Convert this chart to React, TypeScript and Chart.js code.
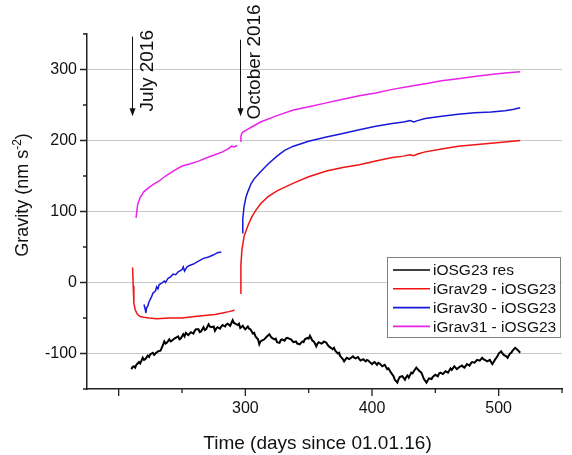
import React, { useEffect, useRef } from "react";
import { Chart, registerables } from "chart.js";

Chart.register(...registerables);

// ---------- data (day since 01.01.16, gravity nm s^-2) ----------
const RES_SERIES: [number, number][] = [
  [210, -122], [211, -119], [212, -118], [213, -120], [214, -116], [216, -112], [217, -114], [218, -110], [219, -106], [220, -109], [221, -108], [223, -103],
  [224, -105], [225, -101], [227, -99], [228, -102], [229, -100], [231, -97], [233, -96], [234, -92], [235, -88], [236, -83], [237, -86], [238, -85],
  [240, -80], [241, -83], [242, -82], [244, -79], [245, -78], [247, -76], [248, -80], [249, -79], [251, -73], [252, -76], [253, -71], [255, -74],
  [256, -72], [257, -70], [259, -72], [260, -68], [261, -66], [263, -66], [264, -70], [265, -69], [267, -63], [268, -67], [269, -66], [271, -59],
  [272, -62], [273, -63], [275, -62], [276, -68], [277, -65], [278, -63], [280, -65], [281, -62], [282, -60], [284, -62], [285, -59], [286, -58],
  [288, -61], [289, -57], [290, -53], [291, -57], [292, -58], [294, -60], [295, -58], [296, -64], [298, -61], [299, -64], [300, -66], [302, -62],
  [303, -65], [304, -66], [306, -72], [307, -71], [308, -76], [310, -80], [311, -87], [312, -83], [313, -82], [315, -80], [316, -78], [317, -76],
  [319, -73], [320, -76], [321, -78], [323, -80], [324, -79], [325, -84], [327, -85], [328, -81], [329, -80], [331, -82], [332, -79], [333, -78],
  [336, -80], [337, -82], [338, -84], [340, -83], [341, -86], [343, -87], [345, -83], [346, -84], [347, -80], [349, -78], [350, -79], [351, -75],
  [353, -82], [354, -83], [355, -86], [356, -90], [357, -86], [358, -84], [360, -86], [361, -85], [362, -83], [364, -85], [365, -88], [366, -90],
  [369, -94], [370, -92], [371, -96], [373, -100], [374, -99], [375, -104], [377, -108], [378, -111], [380, -106], [381, -107], [382, -108], [385, -104],
  [386, -106], [387, -107], [389, -105], [390, -108], [391, -110], [393, -108], [395, -111], [396, -109], [397, -110], [400, -115], [401, -113], [402, -112],
  [404, -116], [405, -113], [406, -114], [408, -118], [409, -117], [410, -116], [412, -122], [413, -121], [415, -127], [417, -132], [418, -137],
  [420, -141], [421, -136], [422, -133], [424, -132], [426, -137], [427, -133], [428, -131], [429, -134], [431, -127], [432, -128], [433, -125],
  [435, -120], [436, -122], [437, -124], [439, -127], [441, -136], [443, -141], [444, -138], [445, -135], [447, -136], [448, -133], [450, -130],
  [452, -132], [453, -128], [454, -127], [456, -129], [458, -125], [459, -126], [460, -127], [462, -121], [463, -123], [465, -118], [467, -122],
  [469, -119], [471, -117], [472, -119], [473, -120], [475, -115], [477, -117], [478, -114], [479, -112], [481, -113], [483, -109],
  [485, -110], [487, -106], [488, -108], [489, -109], [491, -111], [493, -109], [495, -115], [496, -112], [497, -109], [499, -104],
  [500, -100], [502, -97], [503, -100], [504, -102], [506, -104], [507, -106], [509, -100], [510, -99], [511, -96], [513, -92],
  [515, -95], [517, -99],
];

const GRAV29_JULY: [number, number][] = [
  [211, 21], [211.5, -5], [212, -29], [213, -38], [214, -42], [215, -45], [217, -48], [220, -49],
  [224, -50], [230, -51], [240, -50], [250, -50], [260, -48], [270, -46], [276, -45], [282, -43],
  [287, -41], [291.5, -39],
];
const GRAV29_OCT: [number, number][] = [
  [296, -15], [296.5, 25], [297.3, 46], [299, 65], [302, 80], [305, 92], [308, 101], [312, 111],
  [318, 121], [325, 129], [338, 140], [350, 149], [364, 157], [377, 162], [390, 166], [403, 171],
  [416, 176], [425, 178], [430, 180], [433, 178.5], [436, 181], [442, 184], [455, 188], [468, 192],
  [481, 194], [494, 196], [505, 198], [517, 200],
];

const GRAV30_JULY: [number, number][] = [
  [220, -31], [221, -38], [221.5, -43], [222, -36], [223, -33], [224, -27], [226, -20], [227, -15],
  [229, -12], [230, -6], [231, -9], [232, -3], [234, -1], [236, 2], [237, 0], [239, 6], [241, 8],
  [243, 12], [245, 11], [247, 15], [249, 17], [250, 18], [251, 22], [252, 16], [254, 22], [256, 24],
  [259, 26], [263, 30], [267, 34], [271, 36], [275, 39], [278, 42], [281, 43],
];
const GRAV30_OCT: [number, number][] = [
  [297.5, 70], [298, 90], [299, 107], [300.5, 120], [302, 128], [304.5, 139], [307, 146], [312, 156],
  [318, 167], [325, 178], [331, 186], [338, 192], [350, 199], [364, 205], [377, 210], [390, 215],
  [403, 220], [416, 224], [425, 226], [430, 228], [433, 226], [436, 228], [442, 231], [455, 234],
  [468, 237], [481, 239], [494, 240], [505, 242], [512, 244], [517, 246],
];

const GRAV31_JULY: [number, number][] = [
  [213.7, 91], [215, 110], [217, 120], [220, 128], [224, 134], [228, 139], [232, 143], [237, 150],
  [243, 157], [250, 164], [256, 167], [263, 171], [270, 176], [276, 180], [282, 184], [287, 189],
  [289, 192], [291, 191], [293.6, 193],
];
const GRAV31_OCT: [number, number][] = [
  [296, 199], [296.5, 205], [297, 209], [298, 212], [300, 214], [305, 219], [312, 226], [325, 235],
  [338, 243], [351, 248], [364, 253], [377, 258], [390, 263], [403, 267], [416, 272], [429, 276],
  [442, 280], [455, 284], [468, 287], [481, 290], [494, 293], [505, 295], [517, 297],
];

const SERIES_LABELS = ["iOSG23 res", "iGrav29 - iOSG23", "iGrav30 - iOSG23", "iGrav31 - iOSG23"];
const SERIES_COLORS = ["#000000", "#f01414", "#1818d8", "#ea22ea"];

const X_MAJOR = [200, 300, 400, 500];
const X_MINOR = [250, 350, 450, 550];
const Y_MAJOR = [-100, 0, 100, 200, 300];
const Y_MINOR = [-150, -50, 50, 150, 250, 350];

const EVENTS = [
  { label: "July 2016", day: 210.9, top: 346.5, tip: 234, textDay: 227.2, textStart: 241 },
  { label: "October 2016", day: 295.7, top: 342, tip: 234, textDay: 311.7, textStart: 229.6 },
];

const FONT = "'Liberation Sans', Arial, sans-serif";

const toPts = (a: [number, number][]) => a.map(([x, y]) => ({ x, y }));
const withGap = (a: [number, number][], b: [number, number][]) => [
  ...toPts(a),
  { x: (a[a.length - 1][0] + b[0][0]) / 2, y: null as any },
  ...toPts(b),
];

const overlayPlugin = {
  id: "overlay",
  afterDraw(chart: any) {
    const ctx: CanvasRenderingContext2D = chart.ctx;
    const xs = chart.scales.x;
    const ys = chart.scales.y;
    const area = chart.chartArea;
    ctx.save();
    // tick marks
    ctx.strokeStyle = "#222";
    ctx.lineWidth = 1.3;
    ctx.beginPath();
    for (const v of Y_MAJOR) { const y = ys.getPixelForValue(v); ctx.moveTo(area.left - 7, y); ctx.lineTo(area.left, y); }
    for (const v of Y_MINOR) { const y = ys.getPixelForValue(v); ctx.moveTo(area.left - 4, y); ctx.lineTo(area.left, y); }
    for (const v of X_MAJOR) { const x = xs.getPixelForValue(v); ctx.moveTo(x, area.bottom); ctx.lineTo(x, area.bottom + 7); }
    for (const v of X_MINOR) { const x = xs.getPixelForValue(v); ctx.moveTo(x, area.bottom); ctx.lineTo(x, area.bottom + 4); }
    ctx.stroke();

    // event arrows + labels
    ctx.fillStyle = "#111";
    ctx.strokeStyle = "#111";
    ctx.lineWidth = 1;
    for (const ev of EVENTS) {
      const x = Math.round(xs.getPixelForValue(ev.day)) + 0.5;
      const y0 = ys.getPixelForValue(ev.top);
      const y1 = ys.getPixelForValue(ev.tip);
      ctx.beginPath();
      ctx.moveTo(x, y0);
      ctx.lineTo(x, y1 - 7);
      ctx.stroke();
      ctx.beginPath();
      ctx.moveTo(x - 3, y1 - 8);
      ctx.lineTo(x + 3, y1 - 8);
      ctx.lineTo(x, y1);
      ctx.closePath();
      ctx.fill();
      ctx.save();
      ctx.translate(xs.getPixelForValue(ev.textDay), ys.getPixelForValue(ev.textStart));
      ctx.rotate(-Math.PI / 2);
      ctx.font = `19px ${FONT}`;
      ctx.textAlign = "left";
      ctx.textBaseline = "alphabetic";
      ctx.fillText(ev.label, 0, 0);
      ctx.restore();
    }

    // legend
    const bx = area.right - 175;
    const by = 257;
    const bw = 173;
    const bh = 80;
    ctx.fillStyle = "#ffffff";
    ctx.fillRect(bx, by, bw, bh);
    ctx.strokeStyle = "#808080";
    ctx.lineWidth = 1;
    ctx.strokeRect(bx + 0.5, by + 0.5, bw, bh);
    ctx.font = `15.5px ${FONT}`;
    ctx.textBaseline = "middle";
    ctx.textAlign = "left";
    chart.data.datasets.forEach((ds: any, i: number) => {
      const y = by + 13 + i * 18.8;
      ctx.strokeStyle = ds.borderColor;
      ctx.lineWidth = 1.6;
      ctx.beginPath();
      ctx.moveTo(bx + 6, y);
      ctx.lineTo(bx + 43, y);
      ctx.stroke();
      ctx.fillStyle = "#111";
      ctx.fillText(ds.label, bx + 46, y + 1);
    });

    // axis titles
    ctx.fillStyle = "#111";
    ctx.textBaseline = "alphabetic";
    ctx.textAlign = "center";
    ctx.font = `19px ${FONT}`;
    ctx.fillText("Time (days since 01.01.16)", (area.left + area.right) / 2 - 7, 449);

    ctx.save();
    ctx.translate(28, 195);
    ctx.rotate(-Math.PI / 2);
    const main = "Gravity (nm s";
    const sup = "-2";
    const close = ")";
    ctx.font = `18px ${FONT}`;
    const w1 = ctx.measureText(main).width;
    const w3 = ctx.measureText(close).width;
    ctx.font = `12px ${FONT}`;
    const w2 = ctx.measureText(sup).width;
    let cx = -(w1 + w2 + w3) / 2;
    ctx.textAlign = "left";
    ctx.font = `18px ${FONT}`;
    ctx.fillText(main, cx, 0);
    cx += w1;
    ctx.font = `12px ${FONT}`;
    ctx.fillText(sup, cx, -7);
    cx += w2;
    ctx.font = `18px ${FONT}`;
    ctx.fillText(close, cx, 0);
    ctx.restore();

    ctx.restore();
  },
};

export default function App() {
  const ref = useRef<HTMLCanvasElement | null>(null);
  useEffect(() => {
    document.body.style.margin = "0";
    if (!ref.current) return;
    const line = (i: number, data: any[], w: number) => ({
      label: SERIES_LABELS[i],
      data,
      borderColor: SERIES_COLORS[i],
      backgroundColor: SERIES_COLORS[i],
      borderWidth: w,
      pointRadius: 0,
      tension: 0,
      spanGaps: false,
    });
    const chart = new Chart(ref.current, {
      type: "line",
      data: {
        datasets: [
          line(0, toPts(RES_SERIES), 2),
          line(1, withGap(GRAV29_JULY, GRAV29_OCT), 1.5),
          line(2, withGap(GRAV30_JULY, GRAV30_OCT), 1.5),
          line(3, withGap(GRAV31_JULY, GRAV31_OCT), 1.5),
        ] as any,
      },
      options: {
        animation: false,
        responsive: false,
        layout: { padding: { left: 0, right: 3, top: 34, bottom: 0 } },
        plugins: { legend: { display: false }, tooltip: { enabled: false } },
        scales: {
          x: {
            type: "linear",
            min: 175,
            max: 550,
            afterFit: (s: any) => { s.height = 66; },
            grid: { display: true, color: "rgba(0,0,0,0)", drawTicks: false },
            border: { display: true, color: "#222", width: 1.5 },
            ticks: {
              stepSize: 50,
              autoSkip: false,
              maxRotation: 0,
              padding: 10,
              color: "#111",
              font: { family: FONT, size: 16 },
              callback: (v: any) => (Number(v) % 100 === 0 ? String(v) : ""),
            },
          },
          y: {
            type: "linear",
            min: -150,
            max: 350,
            afterFit: (s: any) => { s.width = 87; },
            grid: {
              color: (c: any) => (c.tick && c.tick.value % 100 === 0 ? "#c8c8c8" : "rgba(0,0,0,0)"),
              lineWidth: 1,
              drawTicks: false,
            },
            border: { display: true, color: "#222", width: 1.5 },
            ticks: {
              stepSize: 50,
              autoSkip: false,
              padding: 10,
              color: "#111",
              font: { family: FONT, size: 16 },
              callback: (v: any) => (Number(v) % 100 === 0 ? String(v) : ""),
            },
          },
        },
      } as any,
      plugins: [overlayPlugin],
    });
    return () => chart.destroy();
  }, []);
  return <canvas ref={ref} width={572} height={455} style={{ display: "block" }} />;
}
